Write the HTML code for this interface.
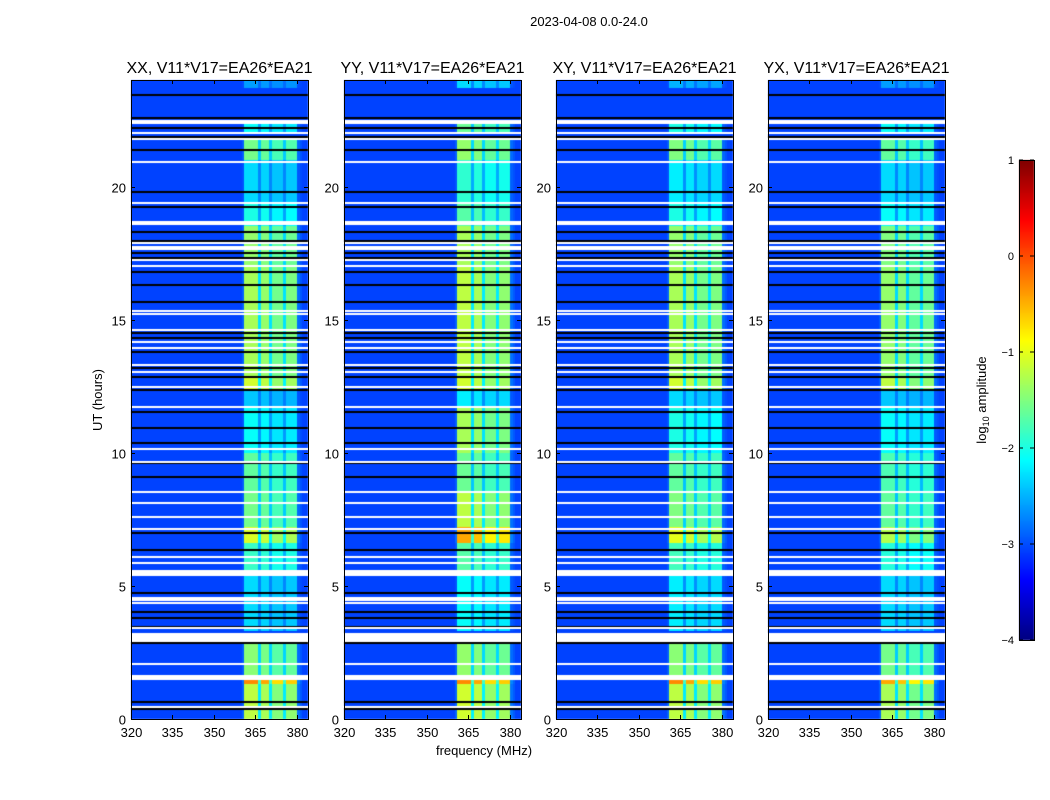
<!DOCTYPE html>
<html><head><meta charset="utf-8">
<style>
html,body{margin:0;padding:0;background:#fff;}
#wrap{position:relative;width:1050px;height:800px;overflow:hidden;font-family:"Liberation Sans","DejaVu Sans",sans-serif;}
canvas{position:absolute;}
svg{position:absolute;left:0;top:0;}
</style></head>
<body>
<div id="wrap">
<canvas id="cv" width="1050" height="800" style="left:0;top:0"></canvas>
<svg id="sv" width="1050" height="800"></svg>
</div>
<script>
// ---- data ----
const panelTitles = ["XX, V11*V17=EA26*EA21","YY, V11*V17=EA26*EA21","XY, V11*V17=EA26*EA21","YX, V11*V17=EA26*EA21"];
const xTicks = [320,335,350,365,380];
const yTicks = [0,5,10,15,20];
const cbTicks = [-4,-3,-2,-1,0,1];
const cbTickLabels = ["\u22124","\u22123","\u22122","\u22121","0","1"];
const backgroundLevel = -3.05;
// band profile per 1 MHz bin, 320..383
const freqBins = [];
for (let f = 320; f < 384; f++) freqBins.push(f);
const freqProfile = [0,0,0,0,0,0,0,0,0,0, 0,0,0,0,0,0,0,0,0,0,
  0,0,0,0,0,0,0,0,0,0, 0,0,0,0,0,0,0,0,0,0,
  0.08,1,1,1,1,1,0.45,0.95,0.95,0.95, 0.45,0.85,0.85,0.85,0.85,0.45,0.88,0.88,0.88,0.88, 0.12,0.06,0,0];
// time segments [startHr,endHr] and band levels per panel
const segStart = [23.7,22.0,21.0,19.4,18.5,17.0,15.2,12.9,12.4,11.7,10.0,8.5,7.2,6.6,5.6,3.3,1.65,1.3,0.0];
const segEnd   = [24.0,22.4,21.8,21.0,19.4,18.5,17.0,15.2,12.9,12.4,11.7,10.0,8.5,7.2,6.6,5.4,2.9,1.48,1.3];
const bandXX = [-2.6,-2.1,-1.55,-2.3,-2.0,-1.4,-1.3,-1.3,-1.1,-2.4,-2.1,-1.65,-1.55,-1.05,-1.85,-2.3,-1.45,-0.3,-1.2];
const bandYY = [-2.3,-1.6,-1.4,-1.9,-1.7,-1.3,-1.2,-1.2,-1.1,-2.2,-1.3,-1.6,-1.2,-0.45,-1.7,-2.1,-1.4,-0.3,-1.1];
const bandXY = [-2.5,-2.0,-1.5,-2.2,-2.0,-1.4,-1.3,-1.3,-1.1,-2.3,-2.0,-1.65,-1.5,-1.0,-1.8,-2.2,-1.45,-0.3,-1.2];
const bandYX = [-2.6,-2.1,-1.65,-2.3,-2.1,-1.5,-1.4,-1.4,-1.2,-2.4,-2.1,-1.75,-1.65,-1.25,-1.95,-2.3,-1.55,-0.45,-1.3];
const whiteLines = [22.47,22.39,22.01,21.78,20.92,19.38,18.67,18.59,17.87,17.74,17.65,17.24,17.01,15.33,15.21,14.61,14.17,13.93,13.29,13.04,12.48,11.72,10.14,9.66,8.52,8.11,7.59,7.13,6.09,5.86,4.54,4.47,4.36,3.42,2.07,0.45];
const whiteBandStart = [5.38,2.90,1.48];
const whiteBandEnd = [5.60,3.23,1.65];
const blackLines = [23.45,22.59,22.2,21.87,21.37,19.79,19.23,18.30,17.96,17.5,17.31,16.8,16.3,15.67,14.5,14.31,13.79,13.18,12.85,12.35,11.54,10.93,10.36,9.61,9.09,6.98,6.35,4.73,4.03,3.79,3.47,2.85,0.65,0.38];

// ---- layout ----
const panelLeft = [131,344,556,768];
const panelW = 177, plotTop = 80, plotBottom = 719;
const fMin = 320, fMax = 384, tMax = 24;
const bands = [bandXX,bandYY,bandXY,bandYX];
function xs(p,f){return panelLeft[p] + (f-fMin)/(fMax-fMin)*panelW;}
function ys(h){return plotBottom - h/tMax*(plotBottom-plotTop);}
function jet(v){
  const t = Math.max(0,Math.min(1,(v+4)/5));
  const c = x=>Math.round(255*Math.max(0,Math.min(1,x)));
  return `rgb(${c(1.5-Math.abs(4*t-3))},${c(1.5-Math.abs(4*t-2))},${c(1.5-Math.abs(4*t-1))})`;
}
const ctx = document.getElementById('cv').getContext('2d');
for (let p=0;p<4;p++){
  ctx.fillStyle = jet(backgroundLevel);
  ctx.fillRect(panelLeft[p],plotTop,panelW,plotBottom-plotTop);
  for (let s=0;s<segStart.length;s++){
    const y0=Math.round(ys(segEnd[s])), y1=Math.round(ys(segStart[s]));
    for (let i=0;i<freqBins.length;i++){
      if (freqProfile[i]<=0) continue;
      const v = backgroundLevel + (bands[p][s]-backgroundLevel)*freqProfile[i];
      ctx.fillStyle = jet(v);
      const x0=Math.round(xs(p,freqBins[i])), x1=Math.round(xs(p,freqBins[i]+1));
      ctx.fillRect(x0,y0,x1-x0,y1-y0);
    }
  }
  ctx.fillStyle='#000';
  blackLines.forEach(h=>ctx.fillRect(panelLeft[p],Math.round(ys(h))-1,panelW,2));
  ctx.fillStyle='#fff';
  whiteLines.forEach(h=>ctx.fillRect(panelLeft[p],Math.round(ys(h))-1,panelW,2));
  for (let k=0;k<whiteBandStart.length;k++){
    const a=Math.round(ys(whiteBandEnd[k])), b=Math.round(ys(whiteBandStart[k]));
    ctx.fillRect(panelLeft[p],a,panelW,b-a);
  }
}
// colorbar
const cbX=1019, cbW=15, cbTop=160, cbBot=640;
for (let y=cbTop;y<cbBot;y++){
  const v = 1 - (y-cbTop)/(cbBot-cbTop)*5;
  ctx.fillStyle=jet(v); ctx.fillRect(cbX,y,cbW,1);
}

// ---- svg overlay ----
const NS='http://www.w3.org/2000/svg';
const sv=document.getElementById('sv');
function el(tag,attrs,parent){const e=document.createElementNS(NS,tag);for(const k in attrs)e.setAttribute(k,attrs[k]);(parent||sv).appendChild(e);return e;}
function txt(x,y,s,size,anchor,name,extra){
  const t=el('text',Object.assign({x:x,y:y,'font-size':size,'text-anchor':anchor||'middle',fill:'#000','font-family':'Liberation Sans, DejaVu Sans, sans-serif'},extra||{}));
  t.textContent=s;
  
  
  return t;
}
txt(589,26,"2023-04-08 0.0-24.0",13,'middle','figure-title');
for (let p=0;p<4;p++){
  const g=el('g',{});
  
  
  const r=el('rect',{x:panelLeft[p]+0.5,y:plotTop+0.5,width:panelW,height:plotBottom-plotTop,fill:'none',stroke:'#000','stroke-width':1},g);
  
  
  txt(panelLeft[p]+panelW/2,73,panelTitles[p],16,'middle','panel-title');
  xTicks.forEach(f=>{
    const x=Math.round(xs(p,f))+0.5;
    el('line',{x1:x,x2:x,y1:plotBottom,y2:plotBottom-4,stroke:'#000'},g);
    el('line',{x1:x,x2:x,y1:plotTop,y2:plotTop+4,stroke:'#000'},g);
    txt(x,737,String(f),13,'middle','x-tick-label');
  });
  yTicks.forEach(h=>{
    const y=Math.round(ys(h))+0.5;
    el('line',{x1:panelLeft[p],x2:panelLeft[p]+4,y1:y,y2:y,stroke:'#000'},g);
    el('line',{x1:panelLeft[p]+panelW,x2:panelLeft[p]+panelW-4,y1:y,y2:y,stroke:'#000'},g);
    txt(panelLeft[p]-5,y+5,String(h),13,'end','y-tick-label');
  });
}
txt(484,755,"frequency (MHz)",13,'middle','x-axis-title');
txt(102,400,"UT (hours)",13,'middle','y-axis-title',{transform:'rotate(-90 102 400)'});
const cbr=el('rect',{x:cbX+0.5,y:cbTop+0.5,width:cbW,height:cbBot-cbTop,fill:'none',stroke:'#000'});


cbTicks.forEach((v,i)=>{
  const y=cbTop+(1-v)/5*(cbBot-cbTop);
  el('line',{x1:cbX,x2:cbX+4,y1:y,y2:y,stroke:'#000'});
  el('line',{x1:cbX+cbW,x2:cbX+cbW-4,y1:y,y2:y,stroke:'#000'});
  txt(1014,y+4,cbTickLabels[i],11,'end','colorbar-tick-label');
});
const cl=el('text',{x:986,y:400,'font-size':13,'text-anchor':'middle',transform:'rotate(-90 986 400)','font-family':'Liberation Sans, DejaVu Sans, sans-serif'});


cl.innerHTML='log<tspan font-size="9" dy="3">10</tspan><tspan dy="-3"> amplitude</tspan>';
</script>
</body></html>
